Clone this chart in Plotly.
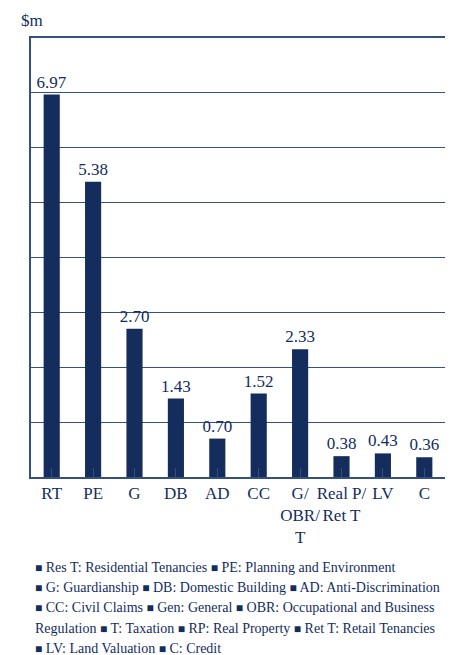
import plotly.graph_objects as go

# Expenditure by list, $m
categories = ["RT", "PE", "G", "DB", "AD", "CC", "G/<br>OBR/<br>T", "Real P/<br>Ret T", "LV", "C"]
values = [6.97, 5.38, 2.70, 1.43, 0.70, 1.52, 2.33, 0.38, 0.43, 0.36]

legend_lines = [
    "■ Res T: Residential Tenancies ■ PE: Planning and Environment",
    "■ G: Guardianship ■ DB: Domestic Building ■ AD: Anti-Discrimination",
    "■ CC: Civil Claims ■ Gen: General ■ OBR: Occupational and Business",
    "Regulation ■ T: Taxation ■ RP: Real Property ■ Ret T: Retail Tenancies",
    "■ LV: Land Valuation ■ C: Credit",
]

NAVY = "#142d5c"
LINE = "#34507f"
FONT = "Liberation Serif"

W, H = 461, 655
ML, MR, MT, MB = 31, 16, 38, 178
PLOT_H = H - MT - MB
PLOT_W = W - ML - MR


def paper_y(py):
    """Pixel row from the top of the page -> paper y coordinate."""
    return (H - MB - py) / PLOT_H


fig = go.Figure(
    go.Bar(
        x=list(range(len(categories))),
        y=values,
        width=0.39,
        marker=dict(color=NAVY, line=dict(width=0)),
        texttemplate="%{y:.2f}",
        textposition="outside",
        constraintext="none",
        textfont=dict(family=FONT, size=17, color=NAVY),
        cliponaxis=False,
        hoverinfo="skip",
    )
)


def square(s):
    return s.replace("■", "<span style='font-size:12px'>■</span>")


annotations = [
    dict(
        text="$m",
        xref="paper", yref="paper",
        x=-12 / PLOT_W, y=paper_y(20),
        xanchor="left", yanchor="middle",
        showarrow=False,
        font=dict(family=FONT, size=17, color=NAVY),
    )
]
for i, line in enumerate(legend_lines):
    annotations.append(
        dict(
            text=square(line),
            xref="paper", yref="paper",
            x=2 / PLOT_W, y=paper_y(567 + i * 20.4),
            xanchor="left", yanchor="middle",
            align="left",
            showarrow=False,
            font=dict(family=FONT, size=14, color=NAVY),
        )
    )

fig.update_layout(
    width=W,
    height=H,
    margin=dict(l=ML, r=MR, t=MT, b=MB),
    paper_bgcolor="white",
    plot_bgcolor="white",
    showlegend=False,
    font=dict(family=FONT, color=NAVY),
    xaxis=dict(
        tickmode="array",
        tickvals=list(range(len(categories))),
        ticktext=categories,
        range=[-0.5, len(categories) - 0.5],
        tickson="boundaries",
        ticks="inside",
        ticklen=9,
        tickcolor=LINE,
        tickwidth=1,
        tickangle=0,
        showline=True,
        mirror=True,
        linecolor=LINE,
        linewidth=1.5,
        showgrid=False,
        tickfont=dict(family=FONT, size=17, color=NAVY),
        fixedrange=True,
    ),
    yaxis=dict(
        range=[0, 8],
        dtick=1,
        showticklabels=False,
        showgrid=True,
        gridcolor=LINE,
        gridwidth=1,
        showline=True,
        linecolor=LINE,
        linewidth=1.5,
        zeroline=False,
        ticks="",
        fixedrange=True,
    ),
    annotations=annotations,
)

fig.write_html("out.html")
